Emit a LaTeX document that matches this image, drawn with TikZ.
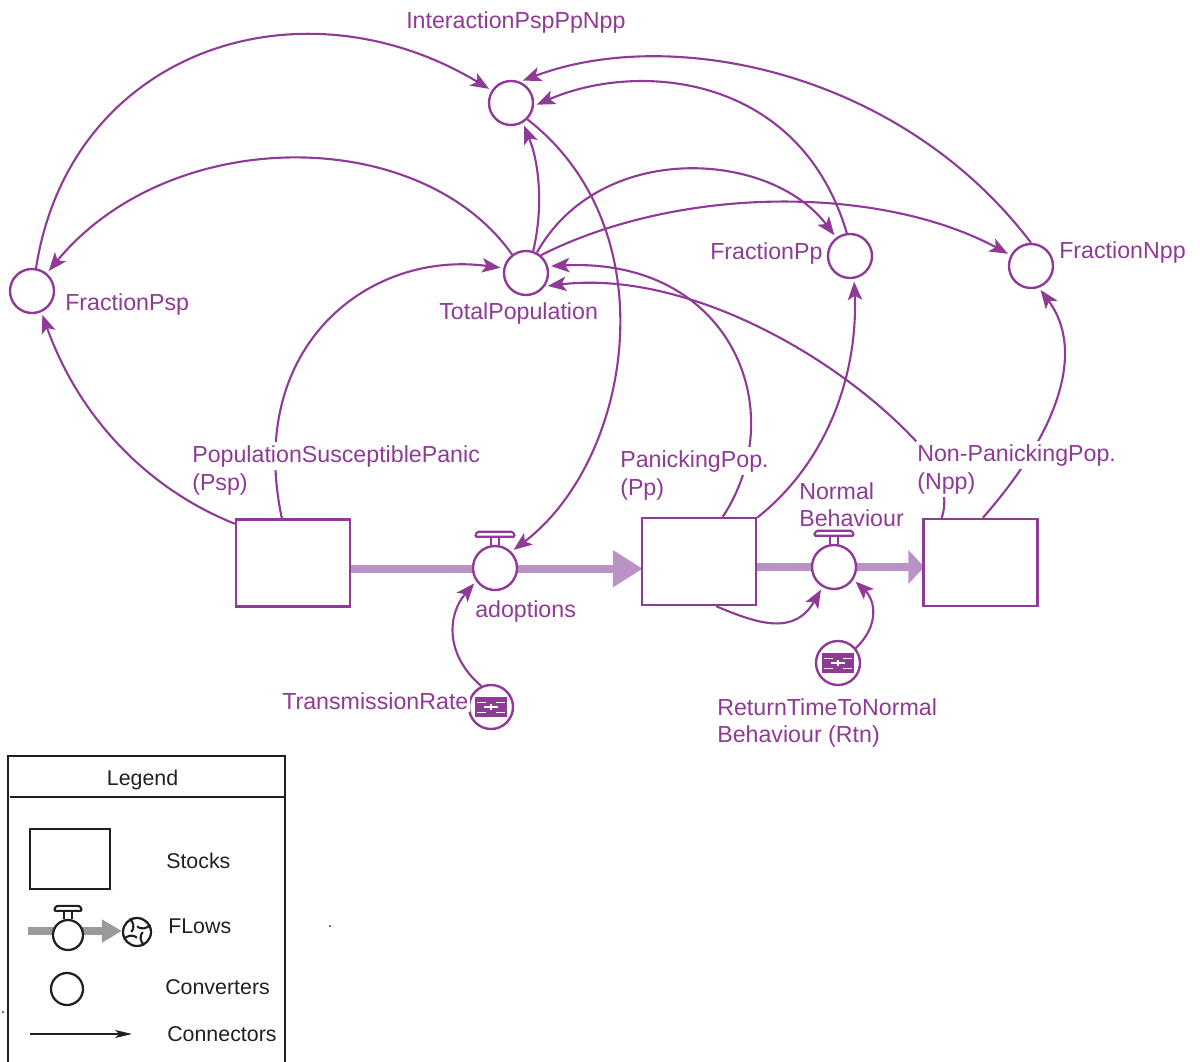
\documentclass[tikz,border=0pt]{standalone}
\usepackage{fontspec}
\setmainfont{Liberation Sans}
\usepackage{tikz}
\usetikzlibrary{arrows.meta,backgrounds}
\definecolor{simpurple}{HTML}{8E3A96}
\definecolor{simflow}{HTML}{B993C6}
\definecolor{legendgray}{HTML}{999A9C}
\definecolor{legendink}{HTML}{231F20}
\def\valvecap#1#2#3{
	\draw[#3] (#1.north) ++(-4,0) -- ++(0,-8) ++(8,0) -- ++(0,8);
	\draw[#3, rounded corners=1pt] (#1.north) ++(-#2,-8) -- ++(2*#2,0) -- ++(-2,-5) -- ++(-2*#2+4,0) -- cycle;
}
\def\paramicon#1{
	\fill[simpurple] (#1) ++(-16,-10) rectangle ++(32,20);
	\foreach \dx/\dy in {-14/-5,5/-5,-14/5,5/5}
		\draw[white, line width=0.6pt] (#1) ++(\dx,\dy) -- ++(9,0);
	\draw[white, line width=1pt] (#1) ++(-7,0) -- ++(14,0);
	\draw[white, line width=1pt] (#1) ++(0,-3) -- ++(0,6);
}

\begin{document}
\begin{tikzpicture}[
	x=0.025cm, y=-0.025cm,
	converter/.style={draw=simpurple, circle, line width=1.7pt, minimum size=1.1cm, inner sep=0pt, fill=white},
	stock/.style={draw=simpurple, rectangle, line width=1.7pt, minimum width=2.85cm, minimum height=2.175cm, inner sep=0pt, fill=white},
	link/.style={draw=simpurple, line width=1.5pt, shorten >=2pt, -{Stealth[length=0.46cm, width=0.36cm, inset=0.11cm]}},
	flowmain/.style={draw=simflow, line width=0.2cm, shorten >=-1.5pt},
	label/.style={anchor=west, text=simpurple, font=\fontsize{16.5pt}{18pt}\selectfont, inner xsep=1pt, inner ysep=2pt, xshift=-1pt, fill=white},
	legendtext/.style={anchor=west, text=legendink, font=\fontsize{15.2pt}{17pt}\selectfont, inner sep=1pt, xshift=-1pt},
	legendline/.style={draw=legendink, line width=0.9pt},
	legendshape/.style={draw=legendink, line width=1.6pt, fill=white, inner sep=0pt},
	]
	\useasboundingbox (0,0) rectangle (1200,1062);

	% stocks and flows
	\node[stock] (stockpsp) at (293,563) {};
	\node[stock] (stockpp) at (699,561.5) {};
	\node[stock] (stocknpp) at (980.5,562.5) {};
	\node[converter] (adoptions) at (495,568) {};
	\node[converter] (normal) at (834,567) {};
	\begin{scope}[on background layer]
		\draw[flowmain, -{Triangle[length=0.75cm, width=0.875cm]}] ([yshift=-0.5pt]stockpsp.east |- adoptions) -- ([yshift=-0.5pt]stockpp.west |- adoptions);
		\draw[flowmain, -{Triangle[length=0.4cm, width=0.825cm]}] (stockpp.east |- normal) -- (stocknpp.west |- normal);
	\end{scope}
	\valvecap{adoptions}{20}{simpurple, line width=1.5pt}
	\valvecap{normal}{20}{simpurple, line width=1.5pt}

	% converters
	\node[converter] (interaction) at (511,103) {};
	\node[converter] (totalpop) at (526,273) {};
	\node[converter] (fracpsp) at (32,291) {};
	\node[converter] (fracpp) at (850,256) {};
	\node[converter] (fracnpp) at (1031,266) {};
	\node[converter] (transrate) at (491,707) {};
	\node[converter] (returntime) at (838,663) {};
	\paramicon{transrate}
	\paramicon{returntime}

	% connectors
	\draw[link] (fracpsp.80) .. controls (70,50) and (300,-25) .. (interaction.147);
	\draw[link] (totalpop.127) .. controls (420,124) and (170,124) .. (fracpsp.50);
	\draw[link] (stockpsp.104) .. controls (245,345) and (370,250) .. (totalpop.168);
	\draw[link] (stockpsp.146) .. controls (150,490) and (80,420) .. (fracpsp.-66);
	\draw[link] (totalpop.72) .. controls (543,210) and (540,165) .. (interaction.-59);
	\draw[link] (interaction.-45) .. controls (670,230) and (632,460) .. (adoptions.45);
	\draw[link] (fracpp.98) .. controls (800,75) and (640,60) .. (interaction.-7);
	\draw[link] (fracnpp.90) .. controls (900,70) and (670,25) .. (interaction.67);
	\draw[link] (totalpop.62) .. controls (600,140) and (770,150) .. (fracpp.127);
	\draw[link] (totalpop.50) .. controls (680,185) and (880,185) .. (fracnpp.152);
	\draw[link] (stockpp.62) .. controls (793,410) and (730,257) .. (totalpop.17);
	\draw[link] (stocknpp.131) .. controls (952,490) and (930,455) .. (915,440) .. controls (830,350) and (680,270) .. (totalpop.-35);
	\draw[link] (stockpp.37) .. controls (830,460) and (858,370) .. (fracpp.-80);
	\draw[link] (stocknpp.87) .. controls (1060,430) and (1085,350) .. (fracnpp.-70);
	\draw[link] (stockpp.-69) .. controls (760,625) and (795,635) .. (normal.240);
	\draw[link] (returntime.40) .. controls (880,625) and (875,600) .. (normal.-33);
	\draw[link] (transrate.115) .. controls (445,655) and (447,615) .. (adoptions.215);

	% labels
	\node[label] (labinteraction) at (406,23) {InteractionPspPpNpp};
	\node[label] (labfracpsp) at (65,305) {FractionPsp};
	\node[label] (labfracpp) at (710,254) {FractionPp};
	\node[label] (labfracnpp) at (1059,253) {FractionNpp};
	\node[label] (labtotal) at (439,314) {TotalPopulation};
	\node[label] (labpsp) at (192,456) {PopulationSusceptiblePanic};
	\node[label] (labpspb) at (192,484) {(Psp)};
	\node[label] (labpp) at (620,461) {PanickingPop.};
	\node[label] (labppb) at (620,489) {(Pp)};
	\node[label] (labnpp) at (917,455) {Non-PanickingPop.};
	\node[label] (labnppb) at (917,483) {(Npp)};
	\node[label] (labnormal) at (799,491) {Normal};
	\node[label] (labnormalb) at (799,518) {Behaviour};
	\node[label] (labadoptions) at (475,611) {adoptions};
	\node[label] (labtrans) at (282,701) {TransmissionRate};
	\node[label] (labreturn) at (717,707) {ReturnTimeToNormal};
	\node[label] (labreturnb) at (717,736) {Behaviour (Rtn)};

	% legend
	\draw[legendline] (8,1062) -- (8,756) -- (285,756) -- (285,1062);
	\draw[legendline] (10,797) -- (285,797);
	\node[legendtext, anchor=center] (legtitle) at (144,780) {Legend};
	\node[legendshape, rectangle, minimum width=2cm, minimum height=1.5cm] (legstock) at (70,859) {};
	\node[legendtext] (legstocks) at (166,861) {Stocks};
	\node[legendshape, circle, minimum size=0.75cm] (legvalve) at (68,935) {};
	\node[legendshape, circle, minimum size=0.7cm] (legcloud) at (137,932) {};
	\coordinate (legflowstart) at (28,931);
	\begin{scope}[on background layer]
		\draw[draw=legendgray, line width=0.2cm, -{Triangle[length=0.5cm, width=0.55cm]}] (legflowstart) -- (legcloud.west |- legflowstart);
	\end{scope}
	\valvecap{legvalve}{14}{legendink, line width=1.5pt}
	\foreach \a in {30,120,210,300}
		\draw[legendink, line width=1.5pt] (legcloud.\a) to[bend left=50] ([shift={(\a+60:0.14cm)}]legcloud.center);
	\node[legendtext] (legflows) at (168,926) {FLows};
	\node[legendshape, circle, minimum size=0.8cm] (legconverter) at (67,989) {};
	\node[legendtext] (legconverters) at (165,987) {Converters};
	\coordinate (legconnstart) at (30,1034);
	\coordinate (legconnend) at (132,1034);
	\draw[legendink, line width=0.9pt, -{Stealth[length=0.42cm, width=0.2cm, inset=0.1cm]}] (legconnstart) -- (legconnend);
	\node[legendtext] (legconnectors) at (167,1034) {Connectors};
	\fill[legendink] (330,926) circle (1);
	\fill[legendink] (3,1012) circle (1);
\end{tikzpicture}
\end{document}
